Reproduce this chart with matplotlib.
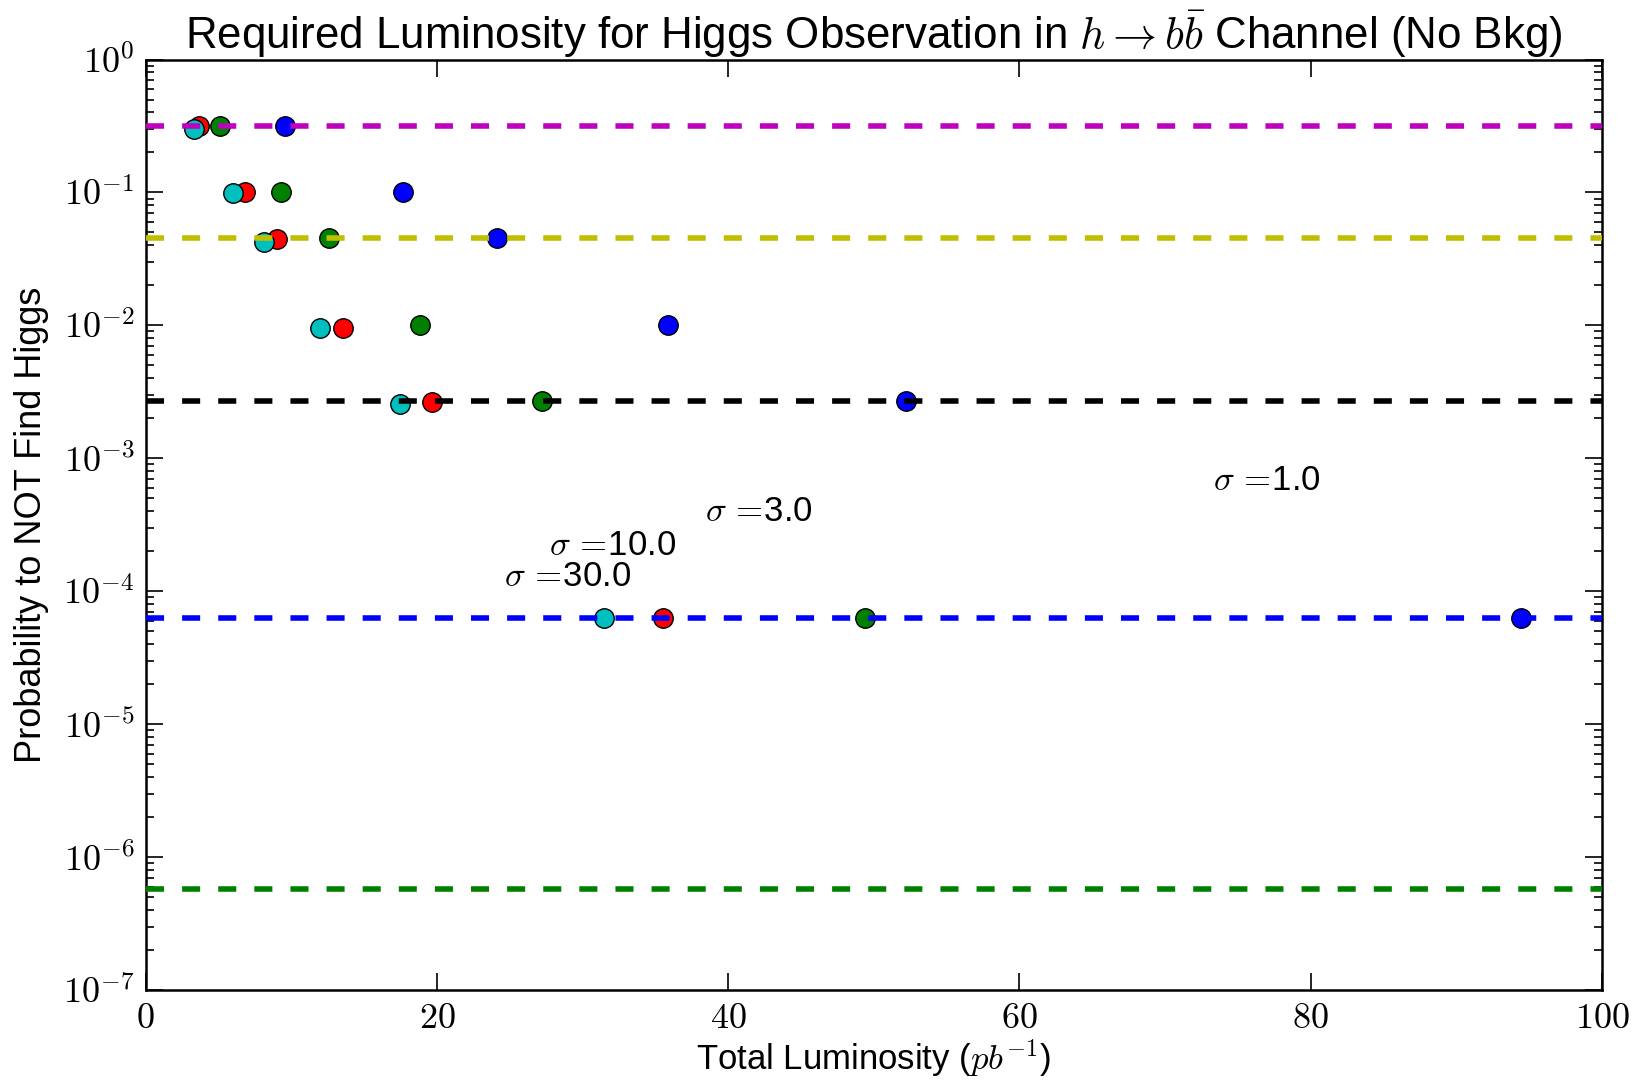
import math

import matplotlib
matplotlib.use("Agg")
import matplotlib.pyplot as plt
from matplotlib.ticker import FuncFormatter, LogLocator, NullFormatter

plt.rcParams['font.family'] = ['Liberation Sans', 'DejaVu Sans']
plt.rcParams['mathtext.fontset'] = 'cm'
plt.rcParams['lines.scale_dashes'] = False

# significance thresholds (1..5 sigma) drawn as dashed lines
line_probs = [0.3173, 0.0455, 0.0027, 6.33e-5, 5.73e-7]
line_colors = [(0.75, 0, 0.75), (0.75, 0.75, 0), 'k', (0, 0, 1), (0, 0.5, 0)]

# required luminosity per signal cross-section sigma
sigmas = [1.0, 3.0, 10.0, 30.0]
series_colors = [(0, 0, 1), (0, 0.5, 0), (1, 0, 0), (0, 0.75, 0.75)]
lumi = [
    [9.6, 17.7, 24.1, 35.9, 52.2, 94.4],
    [5.1, 9.3, 12.6, 18.85, 27.2, 49.4],
    [3.65, 6.8, 9.0, 13.55, 19.65, 35.5],
    [3.3, 6.0, 8.13, 12.0, 17.45, 31.45],
]
prob = [
    [0.317, 0.1, 0.0455, 0.01, 0.0027, 6.3e-5],
    [0.317, 0.1, 0.0455, 0.01, 0.0027, 6.3e-5],
    [0.317, 0.1, 0.0445, 0.0096, 0.00265, 6.3e-5],
    [0.30, 0.099, 0.0423, 0.0096, 0.00256, 6.3e-5],
]
label_x = [73.3, 38.4, 27.7, 24.6]
label_y = [5.8e-4, 3.4e-4, 1.87e-4, 1.09e-4]

fig = plt.figure(figsize=(16.39, 10.81), dpi=100)
ax = fig.add_axes([0.0888, 0.0842, 0.8887, 0.8607])

for i in range(len(sigmas)):
    ax.plot(lumi[i], prob[i], 'o', color=series_colors[i], markersize=14,
            markeredgecolor='k', markeredgewidth=1.0, zorder=3)
    ax.text(label_x[i], label_y[i], r'$\sigma\,=\!$%.1f' % sigmas[i], fontsize=25)

for p, c in zip(line_probs, line_colors):
    ax.axhline(p, color=c, lw=4, linestyle='--', dashes=(13, 13), zorder=4)

ax.set_yscale('log')
ax.set_xlim(0, 100)
ax.set_ylim(1e-7, 1)
ax.yaxis.set_major_locator(LogLocator(base=10, numticks=20))
ax.yaxis.set_minor_locator(LogLocator(base=10, subs=range(2, 10), numticks=20))
ax.yaxis.set_major_formatter(FuncFormatter(lambda v, pos: r'$10^{%d}$' % round(math.log10(v))))
ax.yaxis.set_minor_formatter(NullFormatter())
ax.xaxis.set_major_formatter(FuncFormatter(lambda v, pos: r'$%d$' % v))
ax.tick_params(which='both', direction='in', top=True, right=True, labelsize=26, pad=8)
ax.tick_params(which='major', length=12, width=1.2)
ax.tick_params(which='minor', length=6, width=1.2)
for s in ax.spines.values():
    s.set_linewidth(1.8)

ax.set_title(r'Required Luminosity for Higgs Observation in $h \rightarrow b\bar{b}$ Channel (No Bkg)',
             fontsize=31.6, pad=3)
ax.set_xlabel(r'Total Luminosity ($pb^{-1}$)', fontsize=25, labelpad=1)
ax.set_ylabel('Probability to NOT Find Higgs', fontsize=26, labelpad=10)

fig.savefig('out.png', dpi=100)
